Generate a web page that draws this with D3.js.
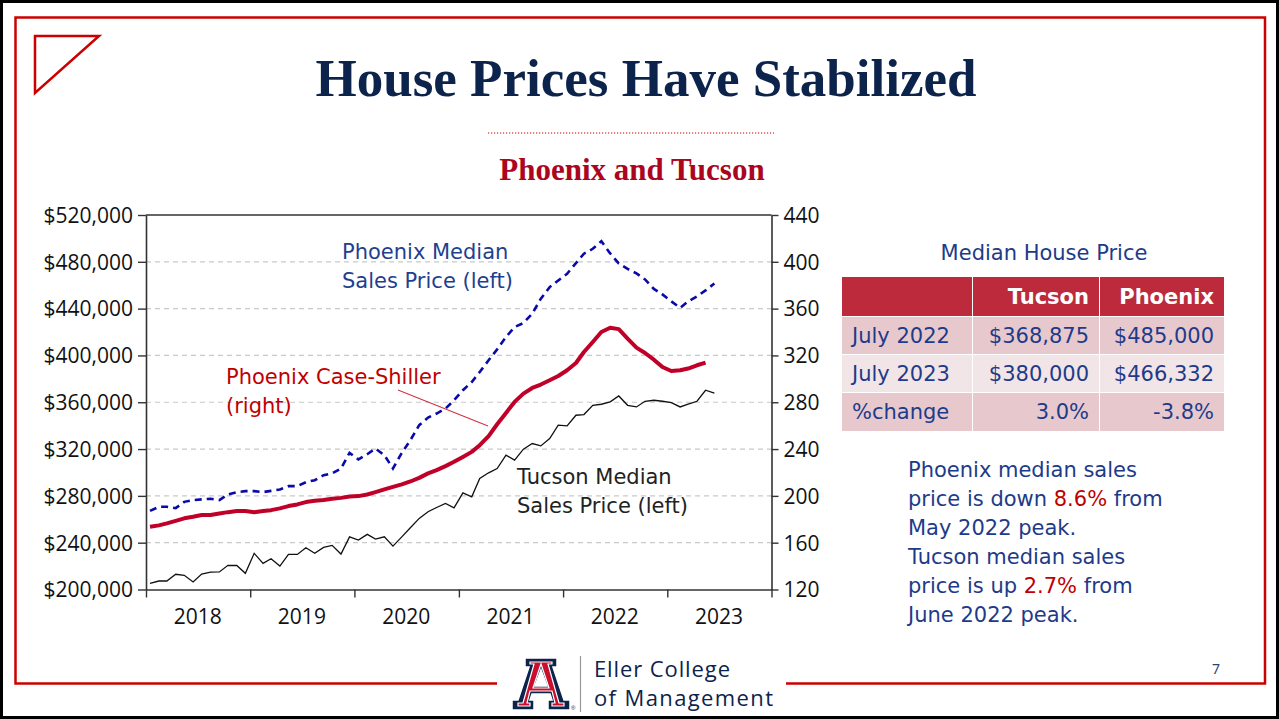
<!DOCTYPE html>
<html>
<head>
<meta charset="utf-8">
<script src="https://cdn.jsdelivr.net/npm/d3@7"></script>
<style>
  body { margin: 0; background: #fff; }
  svg { display: block; }
</style>
</head>
<body>
<div id="slide"></div>
<script>
// ---- data (monthly, Jan 2018 onwards) ----
const tucson = [
  205300, 207250, 207250, 213000, 212100, 206400, 213200, 214900, 215000, 220650, 220500, 213800,
  230900, 222350, 226300, 220000, 230000, 230000, 235700, 230900, 236000, 237700, 230300, 245000,
  242200, 247100, 243100, 245000, 237100, 245000, 252800, 260750, 266400, 270100, 273600, 269800,
  282600, 279200, 294900, 299700, 303400, 314800, 310500, 319900, 324750, 322700, 329000, 340400,
  339800, 348900, 349500, 357400, 358300, 360300, 365400, 357400, 356000, 360850, 361700, 360850,
  359700, 356000, 358300, 360850, 370250, 367900
];
const phoenix = [
  267200, 270650, 270650, 269500, 274900, 276400, 277000, 277500, 276400, 281200, 283200, 284050,
  284050, 283200, 284300, 285500, 288300, 288300, 291700, 293400, 297700, 299150, 303400, 316750,
  311100, 315600, 320500, 314750, 303400, 316750, 327600, 340400, 346950, 350350, 354600, 361700,
  370250, 377300, 385900, 395850, 405200, 415700, 424250, 427650, 435700, 448500, 458400, 464100,
  469800, 478900, 486900, 491150, 497600, 487150, 478600, 473900, 470100, 464950, 456850, 452150,
  446200, 440650, 446200, 450450, 455550, 461500
];
// Phoenix Case-Shiller index (right axis)
const caseShiller = [
  173.6, 174.8, 176.5, 178.7, 180.8, 182.1, 183.6, 183.6, 185.0, 186.1, 187.0, 187.0,
  186.1, 187.0, 187.8, 189.3, 191.3, 192.7, 194.7, 195.8, 196.4, 197.5, 198.3, 199.5,
  199.8, 201.2, 203.2, 205.5, 207.7, 209.8, 212.3, 215.4, 219.2, 222.0, 225.4, 229.1,
  233.3, 237.6, 243.3, 251.0, 261.2, 270.9, 280.3, 287.4, 292.2, 295.1, 298.8, 302.4,
  307.3, 313.5, 322.9, 331.5, 340.0, 343.7, 342.5, 334.4, 326.7, 322.1, 316.4, 310.1,
  306.7, 307.3, 308.8, 311.6, 313.9
];
const leftTicks = [200000, 240000, 280000, 320000, 360000, 400000, 440000, 480000, 520000];
const rightTicks = [120, 160, 200, 240, 280, 320, 360, 400, 440];
const years = [2018, 2019, 2020, 2021, 2022, 2023];

// table
const tableHead = ["", "Tucson", "Phoenix"];
const tableRows = [
  ["July 2022", "$368,875", "$485,000"],
  ["July 2023", "$380,000", "$466,332"],
  ["%change", "3.0%", "-3.8%"]
];
const noteLines = [
  [["Phoenix median sales", 0]],
  [["price is down ", 0], ["8.6%", 1], [" from", 0]],
  [["May 2022 peak.", 0]],
  [["Tucson median sales", 0]],
  [["price is up ", 0], ["2.7%", 1], [" from", 0]],
  [["June 2022 peak.", 0]]
];

const W = 1279, H = 719;
const navy = "#0c234b", blueText = "#1d3b8a", frameRed = "#cc0000", crimson = "#ab0520";

const svg = d3.select("#slide").append("svg")
  .attr("width", W)
  .attr("height", H);

svg.append("rect").attr("width", W).attr("height", H).attr("fill", "#fff");

//---------------- slide frame ----------------
svg.append("rect")
  .attr("x", 1.5).attr("y", 1.5).attr("width", W - 3).attr("height", H - 3)
  .attr("fill", "none").attr("stroke", "#000").attr("stroke-width", 3);

svg.append("path")
  .attr("d", "M497,683.5 H15.5 V17.5 H1265 V683.5 H786")
  .attr("fill", "none").attr("stroke", frameRed).attr("stroke-width", 2.5);

svg.append("path")
  .attr("d", "M35,36 H99 L35,93 Z")
  .attr("fill", "none").attr("stroke", frameRed).attr("stroke-width", 2.5);

// titles
svg.append("text")
  .attr("x", 646).attr("y", 96)
  .attr("text-anchor", "middle")
  .style("font-family", "'Liberation Serif', 'Times New Roman', serif")
  .style("font-weight", "bold").style("font-size", "53px")
  .attr("fill", navy)
  .text("House Prices Have Stabilized");

svg.append("line")
  .attr("x1", 488).attr("x2", 774).attr("y1", 133).attr("y2", 133)
  .attr("stroke", frameRed).attr("stroke-width", 1.2).attr("stroke-dasharray", "1.2,1.8");

svg.append("text")
  .attr("x", 632).attr("y", 180)
  .attr("text-anchor", "middle")
  .style("font-family", "'Liberation Serif', 'Times New Roman', serif")
  .style("font-weight", "bold").style("font-size", "31px")
  .attr("fill", crimson)
  .text("Phoenix and Tucson");

//---------------- chart ----------------
const months = d3.timeMonth.range(new Date(2018, 0, 1), new Date(2023, 6, 1));
const midMonth = d => d3.timeDay.offset(d, 14);

const x = d3.scaleTime().domain([new Date(2018, 0, 1), new Date(2024, 0, 1)]).range([146, 771.5]);
const yL = d3.scaleLinear().domain([200000, 520000]).range([589.5, 215]);
const yR = d3.scaleLinear().domain([120, 440]).range([589.5, 215]);

const tickFont = "'Open Sans', 'Noto Sans', sans-serif";

// gridlines
svg.append("g").selectAll("line")
  .data(leftTicks.slice(1, -1))
  .enter().append("line")
  .attr("x1", 146).attr("x2", 771.5)
  .attr("y1", d => yL(d)).attr("y2", d => yL(d))
  .attr("stroke", "#c9c9c9").attr("stroke-width", 1.2).attr("stroke-dasharray", "5,4");

// top frame of plot
svg.append("line")
  .attr("x1", 146).attr("x2", 771.5).attr("y1", 215).attr("y2", 215)
  .attr("stroke", "#333").attr("stroke-width", 1.5);

let axisL = svg.append("g")
  .attr("transform", "translate(146,0)")
  .call(d3.axisLeft(yL).tickValues(leftTicks).tickFormat(d3.format("$,")).tickSize(8).tickSizeOuter(0));

let axisR = svg.append("g")
  .attr("transform", "translate(771.5,0)")
  .call(d3.axisRight(yR).tickValues(rightTicks).tickSize(7).tickSizeOuter(0));

let xTickDates = years.map(y => new Date(y, 0, 1)).concat([new Date(2024, 0, 1)]);
let axisB = svg.append("g")
  .attr("transform", "translate(0,589.5)")
  .call(d3.axisBottom(x).tickValues(xTickDates).tickFormat("").tickSize(8).tickSizeOuter(0));

[axisL, axisR, axisB].forEach(a => {
  a.select(".domain").attr("stroke", "#333").attr("stroke-width", 1.6);
  a.selectAll(".tick line").attr("stroke", "#333").attr("stroke-width", 1.4);
  a.selectAll("text")
    .style("font-family", tickFont).style("font-size", "21px").attr("fill", "#111");
});
axisL.selectAll("text").attr("x", -13).attr("dy", "0.35em");
axisR.selectAll("text").attr("x", 12).attr("dy", "0.35em");

svg.append("g").selectAll("text")
  .data(years)
  .enter().append("text")
  .attr("x", d => x(new Date(d, 6, 1)))
  .attr("y", 624)
  .attr("text-anchor", "middle")
  .style("font-family", tickFont).style("font-size", "21px")
  .attr("fill", "#111")
  .text(d => d);

// series
const phxData = months.map((m, i) => ({ date: m, v: phoenix[i] }));
const tusData = months.map((m, i) => ({ date: m, v: tucson[i] }));
const csData = months.slice(0, caseShiller.length).map((m, i) => ({ date: m, v: caseShiller[i] }));

const lineL = d3.line().x(d => x(midMonth(d.date))).y(d => yL(d.v));
const lineR = d3.line().x(d => x(midMonth(d.date))).y(d => yR(d.v));

svg.append("path").datum(phxData)
  .attr("d", lineL)
  .attr("fill", "none").attr("stroke", "#0a0aa8").attr("stroke-width", 2.6)
  .attr("stroke-dasharray", "7,5");

svg.append("path").datum(tusData)
  .attr("d", lineL)
  .attr("fill", "none").attr("stroke", "#111").attr("stroke-width", 1.3)
  .attr("stroke-linejoin", "miter");

svg.append("path").datum(csData)
  .attr("d", lineR)
  .attr("fill", "none").attr("stroke", "#c00028").attr("stroke-width", 4)
  .attr("stroke-linejoin", "round");

// annotations
const labFont = "'DejaVu Sans', Verdana, sans-serif";
function label(lines, lx, ly, color) {
  let t = svg.append("text")
    .style("font-family", labFont).style("font-size", "21px").attr("fill", color);
  lines.forEach((s, i) => {
    t.append("tspan").attr("x", lx).attr("y", ly + i * 29).text(s);
  });
}
label(["Phoenix Median", "Sales Price (left)"], 342, 259, "#1f3f8f");
label(["Phoenix Case-Shiller", "(right)"], 226, 384, "#c00000");
label(["Tucson Median", "Sales Price (left)"], 517, 484, "#222");

svg.append("line")
  .attr("x1", 398).attr("y1", 390).attr("x2", 488).attr("y2", 426)
  .attr("stroke", "#d03040").attr("stroke-width", 1.1);

//---------------- table ----------------
svg.append("text")
  .attr("x", 1044).attr("y", 260)
  .attr("text-anchor", "middle")
  .style("font-family", labFont).style("font-size", "21px")
  .attr("fill", blueText)
  .text("Median House Price");

const colX = [842, 972, 1099, 1224];
const rowY = [277, 316, 354, 392, 431];
const rowFill = ["#bc2a3c", "#e7c9cd", "#f2e5e7", "#e7c9cd"];

const allRows = [tableHead].concat(tableRows);
allRows.forEach((row, r) => {
  row.forEach((cell, c) => {
    svg.append("rect")
      .attr("x", colX[c] + (c > 0 ? 1 : 0)).attr("y", rowY[r] + (r > 0 ? 1 : 0))
      .attr("width", colX[c + 1] - colX[c] - (c > 0 ? 1 : 0))
      .attr("height", rowY[r + 1] - rowY[r] - (r > 0 ? 1 : 0))
      .attr("fill", rowFill[r]);
    if (cell === "") return;
    svg.append("text")
      .attr("x", c === 0 ? colX[c] + 10 : colX[c + 1] - 10)
      .attr("y", rowY[r] + 27)
      .attr("text-anchor", c === 0 ? "start" : "end")
      .style("font-family", labFont).style("font-size", "21px")
      .style("font-weight", r === 0 ? "bold" : "normal")
      .attr("fill", r === 0 ? "#fff" : blueText)
      .text(cell);
  });
});

// note text
noteLines.forEach((parts, i) => {
  let t = svg.append("text")
    .attr("x", 908).attr("y", 477 + i * 29)
    .style("font-family", labFont).style("font-size", "21px");
  parts.forEach(p => {
    t.append("tspan").attr("fill", p[1] ? "#c00000" : blueText).text(p[0]);
  });
});

// page number
svg.append("text")
  .attr("x", 1216).attr("y", 674)
  .attr("text-anchor", "middle")
  .style("font-family", "'Noto Sans', sans-serif").style("font-size", "14px")
  .attr("fill", "#2c4470")
  .text("7");

//---------------- logo ----------------
let logo = svg.append("g").attr("transform", "translate(511,658)");
const blockA = "M14,0 H46 V9 H42 L53,42 H59 V52 H37 V42 H41 L39,36 H21 L19,42 H23 V52 H1 V42 H7 L18,9 H14 Z M24,28 H36 L30,12 Z";
logo.append("path").attr("d", blockA)
  .attr("fill", navy).attr("fill-rule", "evenodd")
  .attr("stroke", "#fff").attr("stroke-width", 1.5);
const innerA = "M19,4 H41 V6 H37 L48,45 H53 V48 H41 V45 H44 L41,33 H19 L16,45 H19 V48 H7 V45 H12 L23,6 H19 Z M22,30 H38 L30,6 Z";
logo.append("path").attr("d", innerA)
  .attr("fill", "#c8102e").attr("fill-rule", "evenodd")
  .attr("stroke", "#fff").attr("stroke-width", 1.2);
logo.append("text").attr("x", 60).attr("y", 52)
  .style("font-size", "6px").style("font-family", "sans-serif").attr("fill", navy).text("®");

svg.append("line")
  .attr("x1", 580.5).attr("x2", 580.5).attr("y1", 656).attr("y2", 712)
  .attr("stroke", "#999").attr("stroke-width", 1.2);

let eller = svg.append("text")
  .style("font-family", "'Open Sans', 'Noto Sans', sans-serif").style("font-size", "22px")
  .attr("fill", navy);
eller.append("tspan").attr("x", 594).attr("y", 677).attr("textLength", 136).text("Eller College");
eller.append("tspan").attr("x", 594).attr("y", 706).attr("textLength", 179).text("of Management");
</script>
</body>
</html>
